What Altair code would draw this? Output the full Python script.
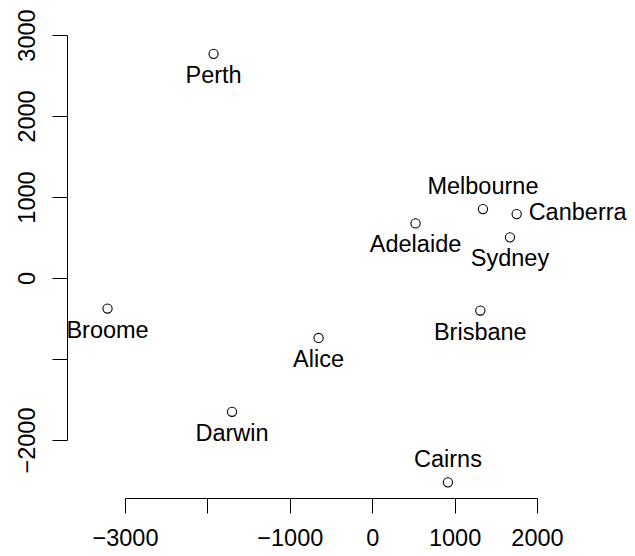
import altair as alt
import pandas as pd

cities = ["Adelaide", "Alice", "Brisbane", "Broome", "Cairns", "Canberra",
          "Darwin", "Melbourne", "Perth", "Sydney"]
coord_x = [526, -651, 1312, -3212, 919, 1753, -1701, 1344, -1925, 1672]
coord_y = [674, -740, -402, -377, -2523, 789, -1652, 851, 2767, 502]

labels_above = ["Melbourne", "Cairns"]
labels_right = ["Canberra"]

x_ticks = [-3000, -2000, -1000, 0, 1000, 2000]
y_ticks = [-2000, -1000, 0, 1000, 2000, 3000]
x_hidden = [-2000]
y_hidden = [-1000]

df = pd.DataFrame({"city": cities, "x": coord_x, "y": coord_y})

FONT = "Liberation Sans"
FS = 23.5

def hide_expr(hidden):
    cond = " || ".join(f"datum.value == {h}" for h in hidden)
    return f"({cond}) ? '' : datum.label"

xenc = alt.X("x:Q", scale=alt.Scale(domain=[-3000, 2000], nice=False, zero=False),
             axis=alt.Axis(title=None, values=x_ticks, format="d", grid=False,
                           offset=58, tickSize=15, tickColor="black", domainColor="black",
                           tickWidth=1, domainWidth=1, labelFont=FONT, labelFontSize=FS,
                           labelColor="black", labelPadding=13, labelBaseline="top",
                           labelAlign="center", labelFlush=False, labelOverlap=False,
                           labelBound=False, labelExpr=hide_expr(x_hidden)))
yenc = alt.Y("y:Q", scale=alt.Scale(domain=[-2000, 3000], nice=False, zero=False),
             axis=alt.Axis(title=None, values=y_ticks, format="d", grid=False,
                           offset=58, tickSize=15, tickColor="black", domainColor="black",
                           tickWidth=1, domainWidth=1, labelFont=FONT, labelFontSize=FS,
                           labelColor="black", labelPadding=18, labelAngle=270,
                           labelBaseline="alphabetic", labelAlign="center",
                           labelFlush=False, labelOverlap=False, labelBound=False,
                           labelExpr=hide_expr(y_hidden)))

base = alt.Chart(df)

points = base.mark_point(shape="circle", filled=False, color="black", size=85,
                         strokeWidth=1.1, opacity=1).encode(x=xenc, y=yenc)

not_below = labels_above + labels_right
below_filter = "indexof([" + ",".join(f'"{c}"' for c in not_below) + "], datum.city) < 0"

below = base.transform_filter(below_filter).mark_text(
    font=FONT, fontSize=FS, color="black", baseline="alphabetic",
    align="center", dy=29).encode(x="x:Q", y="y:Q", text="city:N")

above = base.transform_filter(
    alt.FieldOneOfPredicate(field="city", oneOf=labels_above)
).mark_text(font=FONT, fontSize=FS, color="black", baseline="alphabetic",
            align="center", dy=-15).encode(x="x:Q", y="y:Q", text="city:N")

right = base.transform_filter(
    alt.FieldOneOfPredicate(field="city", oneOf=labels_right)
).mark_text(font=FONT, fontSize=FS, color="black", baseline="alphabetic",
            align="left", dx=12, dy=6).encode(x="x:Q", y="y:Q", text="city:N")

chart = alt.layer(points, below, above, right).properties(
    width=412, height=405,
    autosize=alt.AutoSizeParams(type="none"),
    padding={"left": 117, "top": 27, "right": 90, "bottom": 108},
    background="white",
).configure_view(stroke=None)

chart.save("out.html", embed_options={"renderer": "svg", "actions": False})
